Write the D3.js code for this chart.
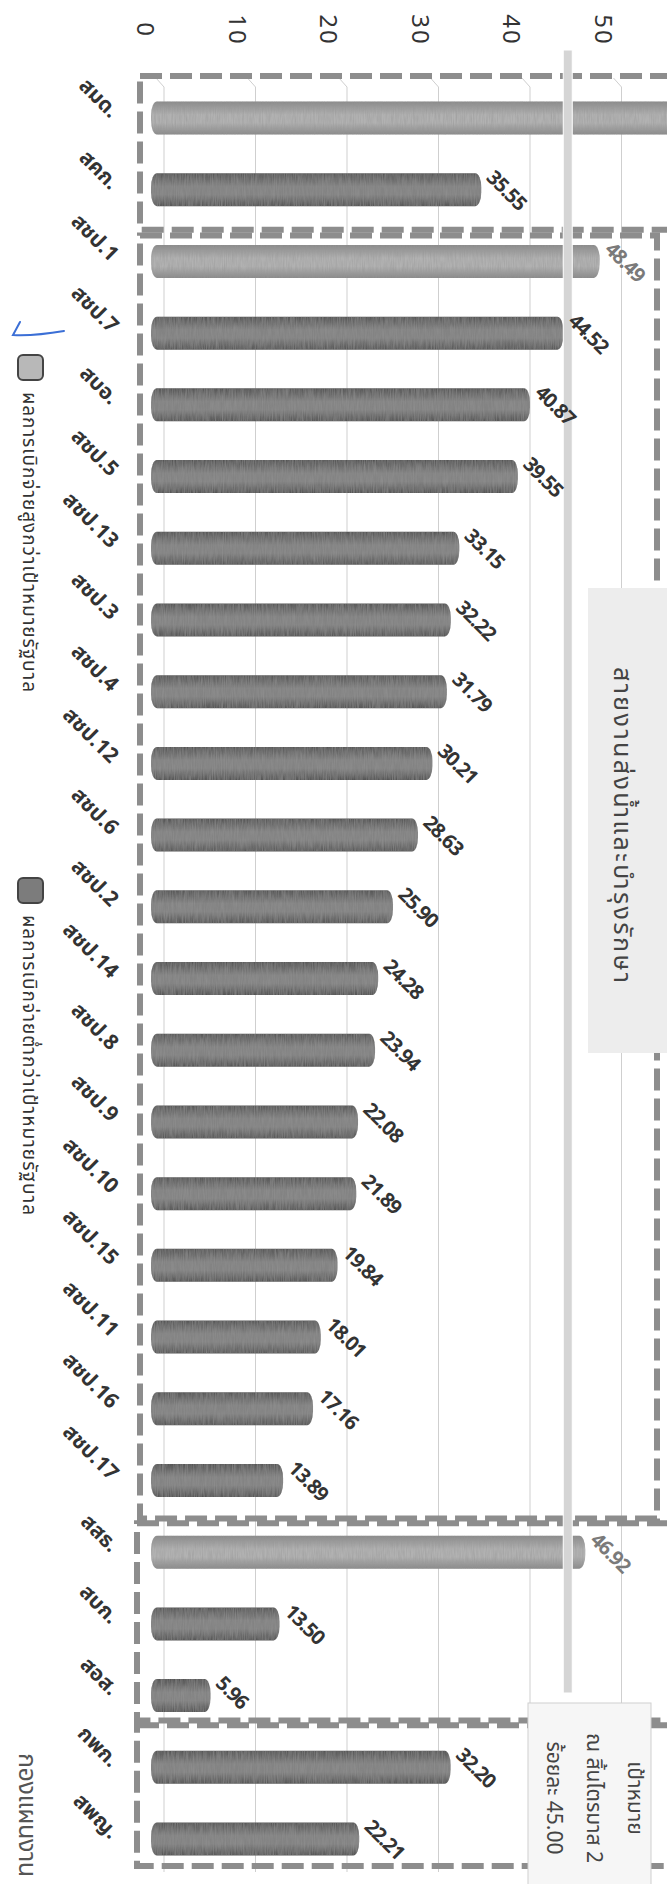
<!DOCTYPE html>
<html>
<head>
<meta charset="utf-8">
<script src="https://cdn.jsdelivr.net/npm/d3@7"></script>
<style>
	body { margin: 0; background: #fff; }
	svg { display: block; font-family: "Noto Sans Thai", "Noto Sans", "DejaVu Sans", sans-serif; }
</style>
</head>
<body>
<div class="canva"></div>
<script>
// data (page is a scan rotated 90deg, so the columns run left -> right)
const categories = ["สมด.", "สคก.", "สชป.1", "สชป.7", "สบอ.", "สชป.5", "สชป.13", "สชป.3", "สชป.4", "สชป.12", "สชป.6", "สชป.2", "สชป.14", "สชป.8", "สชป.9", "สชป.10", "สชป.15", "สชป.11", "สชป.16", "สชป.17", "สสธ.", "สบก.", "สอส.", "กพก.", "สพญ."];
const values = [60, 35.55, 48.49, 44.52, 40.87, 39.55, 33.15, 32.22, 31.79, 30.21, 28.63, 25.9, 24.28, 23.94, 22.08, 21.89, 19.84, 18.01, 17.16, 13.89, 46.92, 13.5, 5.96, 32.2, 22.21];
const target = 45;
const ticks = [0, 10, 20, 30, 40, 50];
const legendLabels = ["ผลการเบิกจ่ายสูงกว่าเป้าหมายรัฐบาล", "ผลการเบิกจ่ายต่ำกว่าเป้าหมายรัฐบาล"];
const groupTitle = "สายงานส่งน้ำและบำรุงรักษา";
const targetLines = ["เป้าหมาย", "ณ สิ้นไตรมาส 2", "ร้อยละ 45.00"];
const footer = "กองแผนงาน";
// dashed boxes: first / last category of each group
const groupRanges = [[0, 1], [2, 19], [20, 22], [23, 24]];

const width = 667;
const height = 1884;

// box layout (not data)
const groupLayout = [
	{ left: 140, padTop: 42, padBottom: 40, right: 720 },
	{ left: 140, padTop: 26, padBottom: 38, right: 657 },
	{ left: 137, padTop: 29, padBottom: 25, right: 720 },
	{ left: 137, padTop: 42, padBottom: 27, right: 720 },
];

const svg = d3
	.select(".canva")
	.append("svg")
	.attr("width", width)
	.attr("height", height);

const x = d3.scaleLinear().domain([0, 50]).range([156, 613.5]);
const y = d3.scalePoint().domain(categories).range([118, 1839]);
const barH = 33;
const depth = 8; //3d back wall offset

const defs = svg.append("defs");
function cylinder(id, edge, mid) {
	const g = defs
		.append("linearGradient")
		.attr("id", id)
		.attr("x1", 0)
		.attr("y1", 0)
		.attr("x2", 0)
		.attr("y2", 1);
	g.append("stop").attr("offset", "0%").attr("stop-color", edge);
	g.append("stop").attr("offset", "40%").attr("stop-color", mid);
	g.append("stop").attr("offset", "65%").attr("stop-color", mid);
	g.append("stop").attr("offset", "100%").attr("stop-color", edge);
}
cylinder("barDark", "#555", "#838383");
cylinder("barLight", "#8a8a8a", "#b2b2b2");

// scan grain on the bars
const grain = defs.append("filter").attr("id", "grain");
grain
	.append("feTurbulence")
	.attr("type", "fractalNoise")
	.attr("baseFrequency", "0.9 0.08")
	.attr("numOctaves", 2)
	.attr("seed", 3)
	.attr("result", "noise");
grain
	.append("feColorMatrix")
	.attr("in", "noise")
	.attr("type", "matrix")
	.attr("values", "0 0 0 0 0.3  0 0 0 0 0.3  0 0 0 0 0.3  0 0 0 0.9 -0.25")
	.attr("result", "dots");
grain
	.append("feComposite")
	.attr("in", "dots")
	.attr("in2", "SourceGraphic")
	.attr("operator", "in")
	.attr("result", "dotsIn");
const merge = grain.append("feMerge");
merge.append("feMergeNode").attr("in", "SourceGraphic");
merge.append("feMergeNode").attr("in", "dotsIn");

//gridlines with little 3d floor kink at the top
svg
	.append("g")
	.selectAll("path")
	.data(ticks)
	.join("path")
	.attr("d", (d) => `M${x(d)},78L${x(d) + depth},87V1872`)
	.attr("fill", "none")
	.attr("stroke", "#cfcfcf")
	.attr("stroke-width", 1);

// tick labels (rotated with the page)
svg
	.append("g")
	.selectAll("text")
	.data(ticks)
	.join("text")
	.attr("transform", (d) => `translate(${x(d) - 12},30) rotate(90)`)
	.attr("text-anchor", "middle")
	.attr("dominant-baseline", "central")
	.attr("font-size", 24)
	.attr("letter-spacing", 2)
	.attr("fill", "#333")
	.text((d) => d);

// dashed group boxes
svg
	.append("g")
	.selectAll("rect")
	.data(groupRanges)
	.join("rect")
	.attr("x", (d, i) => groupLayout[i].left)
	.attr("y", (d, i) => y(categories[d[0]]) - groupLayout[i].padTop)
	.attr("width", (d, i) => groupLayout[i].right - groupLayout[i].left)
	.attr(
		"height",
		(d, i) =>
			y(categories[d[1]]) +
			groupLayout[i].padBottom -
			(y(categories[d[0]]) - groupLayout[i].padTop)
	)
	.attr("fill", "none")
	.attr("stroke", "#8d8d8d")
	.attr("stroke-width", 6)
	.attr("stroke-dasharray", "22 8");

const rows = categories.map((c, i) => ({ cat: c, val: values[i] }));

// bars
svg
	.append("g")
	.attr("filter", "url(#grain)")
	.selectAll("rect")
	.data(rows)
	.join("rect")
	.attr("x", x(0) - 5)
	.attr("y", (d) => y(d.cat) - barH / 2)
	.attr("width", (d) => x(d.val) - x(0) + 5)
	.attr("height", barH)
	.attr("rx", 6)
	.attr("ry", 14)
	.attr("fill", (d) => (d.val >= target ? "url(#barLight)" : "url(#barDark)"));

// target line
svg
	.append("rect")
	.attr("x", x(target) - 4.5)
	.attr("y", 50)
	.attr("width", 9)
	.attr("height", 1643)
	.attr("fill", "#d5d5d5")
	.attr("stroke", "#fff")
	.attr("stroke-width", 1);

// category labels
svg
	.append("g")
	.selectAll("text")
	.data(rows)
	.join("text")
	.attr("transform", (d) => `translate(110,${y(d.cat) + 1}) rotate(45)`)
	.attr("text-anchor", "end")
	.attr("font-size", 21)
	.attr("font-weight", "bold")
	.attr("fill", "#333")
	.text((d) => d.cat);

// value labels (the first bar runs off the page, its label is not on it)
svg
	.append("g")
	.selectAll("text")
	.data(rows.filter((d) => x(d.val) + 40 < width))
	.join("text")
	.attr("transform", (d) => `translate(${x(d.val) + 4},${y(d.cat) - 11}) rotate(45)`)
	.attr("font-size", 20)
	.attr("font-weight", "bold")
	.attr("letter-spacing", -1)
	.attr("fill", (d) => (d.val >= target ? "#7a7a7a" : "#333"))
	.text((d) => d.val.toFixed(2));

// legend
const legend = svg
	.append("g")
	.selectAll("g")
	.data(legendLabels)
	.join("g")
	.attr("transform", (d, i) => `translate(18,${[355, 878][i]})`);
legend
	.append("rect")
	.attr("width", 25)
	.attr("height", 25)
	.attr("rx", 5)
	.attr("fill", (d, i) => (i == 0 ? "#b8b8b8" : "#7c7c7c"))
	.attr("stroke", "#444")
	.attr("stroke-width", 2);
legend
	.append("text")
	.attr("transform", "translate(10,37) rotate(90)")
	.attr("dominant-baseline", "central")
	.attr("font-size", 19)
	.attr("textLength", 300)
	.attr("fill", "#333")
	.text((d) => d);

// pen mark on the scan
svg
	.append("path")
	.attr("d", "M64,331Q35,336 13,335L20,322")
	.attr("fill", "none")
	.attr("stroke", "#3b6fd6")
	.attr("stroke-width", 2)
	.attr("stroke-linecap", "round");

// group title box
svg
	.append("rect")
	.attr("x", 588)
	.attr("y", 588)
	.attr("width", 100)
	.attr("height", 465)
	.attr("fill", "#ededed");
svg
	.append("text")
	.attr("transform", "translate(622,825) rotate(90)")
	.attr("text-anchor", "middle")
	.attr("dominant-baseline", "central")
	.attr("font-size", 25)
	.attr("textLength", 316)
	.attr("fill", "#444")
	.text(groupTitle);

// target note
svg
	.append("rect")
	.attr("x", 528)
	.attr("y", 1703)
	.attr("width", 123)
	.attr("height", 220)
	.attr("fill", "#f6f6f6")
	.attr("stroke", "#cfcfcf");
svg
	.append("g")
	.selectAll("text")
	.data(targetLines)
	.join("text")
	.attr("transform", (d, i) => `translate(${634 - i * 40.5},1798) rotate(90)`)
	.attr("text-anchor", "middle")
	.attr("dominant-baseline", "central")
	.attr("font-size", 21)
	.attr("fill", "#444")
	.text((d) => d);

// footer
svg
	.append("text")
	.attr("transform", "translate(27,1815) rotate(90)")
	.attr("text-anchor", "middle")
	.attr("dominant-baseline", "central")
	.attr("font-size", 25)
	.attr("textLength", 124)
	.attr("fill", "#555")
	.text(footer);
</script>
</body>
</html>
